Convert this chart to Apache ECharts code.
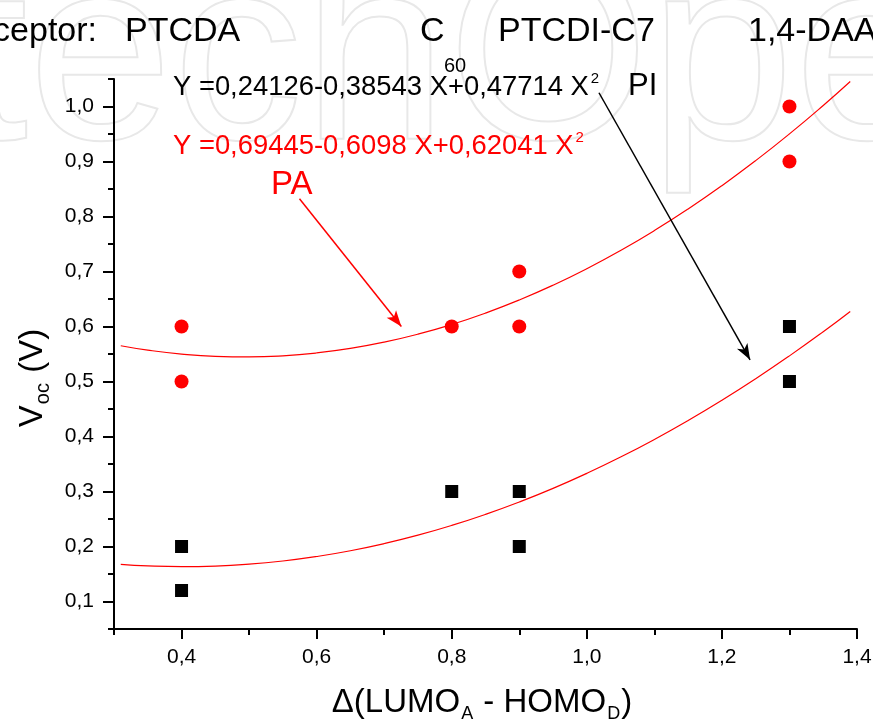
<!DOCTYPE html>
<html>
<head>
<meta charset="utf-8">
<script src="https://cdn.jsdelivr.net/npm/echarts@6/dist/echarts.min.js"></script>
<style>
  html, body { margin: 0; padding: 0; background: #fff; }
  #chart { width: 873px; height: 726px; }
</style>
</head>
<body>
<div id="chart"></div>
<script>
// Measured points: open-circuit voltage vs. LUMO(acceptor) - HOMO(donor) offset
const paPoints = [[0.4, 0.6], [0.4, 0.5], [0.8, 0.6], [0.9, 0.7], [0.9, 0.6], [1.3, 1.0], [1.3, 0.9]];
const piPoints = [[0.4, 0.2], [0.4, 0.12], [0.8, 0.3], [0.9, 0.3], [0.9, 0.2], [1.3, 0.6], [1.3, 0.5]];

// Quadratic fit curves, sampled along x
const fitX = [0.31, 0.35, 0.40, 0.45, 0.50, 0.55, 0.60, 0.65, 0.70, 0.75, 0.80, 0.85, 0.90,
              0.95, 1.00, 1.05, 1.10, 1.15, 1.20, 1.25, 1.30, 1.35, 1.39];
const fitPI = [0.1676, 0.1648, 0.1634, 0.1644, 0.1678, 0.1736, 0.1818, 0.1923, 0.2053, 0.2206,
               0.2383, 0.2584, 0.2809, 0.3057, 0.3330, 0.3626, 0.3946, 0.4290, 0.4658, 0.5050,
               0.5466, 0.5905, 0.6274];
const fitPA = [0.5650, 0.5570, 0.5498, 0.5457, 0.5447, 0.5467, 0.5519, 0.5602, 0.5716, 0.5861,
               0.6037, 0.6244, 0.6482, 0.6751, 0.7051, 0.7382, 0.7744, 0.8137, 0.8561, 0.9016,
               0.9502, 1.0019, 1.0455];

// Axis ticks
const xTicksMajor = [0.4, 0.6, 0.8, 1.0, 1.2, 1.4];
const xTicksMinor = [0.3, 0.5, 0.7, 0.9, 1.1, 1.3];
const yTicksMajor = [0.1, 0.2, 0.3, 0.4, 0.5, 0.6, 0.7, 0.8, 0.9, 1.0];
const yTicksMinor = [0.05, 0.15, 0.25, 0.35, 0.45, 0.55, 0.65, 0.75, 0.85, 0.95, 1.05];

// Arrow annotations (data coordinates: start, end)
const arrowPI = [[1.018, 1.025], [1.2417, 0.5394]];
const arrowPA = [[0.5746, 0.8322], [0.7254, 0.600]];

const FONT = "'Liberation Sans', Arial, Helvetica, sans-serif";
const fmt = v => Number(v).toFixed(1).replace('.', ',');
const pairs = (xs, ys) => xs.map((x, i) => [x, ys[i]]);

const baseX = { type: 'value', min: 0.3, max: 1.4, splitLine: { show: false } };
const baseY = { type: 'value', min: 0.05, max: 1.05, splitLine: { show: false } };

// rich-text styles for an equation with a superscript power
const eqRich = color => ({
  m: { font: '27.4px ' + FONT, fill: color, lineHeight: 32 },
  s: { font: '15px ' + FONT, fill: color, verticalAlign: 'top', lineHeight: 22, padding: [0, 0, 0, 2] }
});

const chart = echarts.init(document.getElementById('chart'));
chart.setOption({
  animation: false,
  backgroundColor: '#ffffff',
  grid: { left: 114, right: 16, top: 79, bottom: 97, containLabel: false, outerBoundsMode: 'none' },
  xAxis: [
    Object.assign({}, baseX, {
      axisLine: { lineStyle: { color: '#000', width: 2 } },
      axisTick: { customValues: xTicksMajor, length: 10, lineStyle: { color: '#000', width: 2 } },
      axisLabel: { customValues: xTicksMajor, formatter: fmt, color: '#000', fontSize: 21, fontFamily: FONT, margin: 18 }
    }),
    Object.assign({}, baseX, {
      position: 'bottom',
      axisLine: { show: false },
      axisTick: { customValues: xTicksMinor, length: 6, lineStyle: { color: '#000', width: 2 } },
      axisLabel: { show: false }
    })
  ],
  yAxis: [
    Object.assign({}, baseY, {
      axisLine: { show: true, lineStyle: { color: '#000', width: 2 } },
      axisTick: { show: true, customValues: yTicksMajor, length: 11, lineStyle: { color: '#000', width: 2 } },
      axisLabel: { customValues: yTicksMajor, formatter: fmt, color: '#000', fontSize: 21, fontFamily: FONT, margin: 20 }
    }),
    Object.assign({}, baseY, {
      position: 'left',
      axisLine: { show: false },
      axisTick: { show: true, customValues: yTicksMinor, length: 6, lineStyle: { color: '#000', width: 2 } },
      axisLabel: { show: false }
    })
  ],
  series: [
    {
      name: 'PA fit', type: 'line', data: pairs(fitX, fitPA), smooth: true, symbol: 'none',
      lineStyle: { color: '#ff0000', width: 1.2 }, z: 3,
      markLine: {
        silent: true, symbol: ['none', 'arrow'], symbolSize: [9, 16],
        lineStyle: { color: '#ff0000', width: 1.5, type: 'solid' }, label: { show: false },
        data: [[{ coord: arrowPA[0] }, { coord: arrowPA[1] }]]
      }
    },
    {
      name: 'PI fit', type: 'line', data: pairs(fitX, fitPI), smooth: true, symbol: 'none',
      lineStyle: { color: '#ff0000', width: 1.2 }, z: 3,
      markLine: {
        silent: true, symbol: ['none', 'arrow'], symbolSize: [9, 16],
        lineStyle: { color: '#000000', width: 1.5, type: 'solid' }, label: { show: false },
        data: [[{ coord: arrowPI[0] }, { coord: arrowPI[1] }]]
      }
    },
    {
      name: 'PA', type: 'scatter', data: paPoints, symbol: 'circle', symbolSize: 14,
      itemStyle: { color: '#ff0000', opacity: 1 }, z: 4
    },
    {
      name: 'PI', type: 'scatter', data: piPoints, symbol: 'rect', symbolSize: 13,
      itemStyle: { color: '#000000', opacity: 1 }, z: 4
    }
  ],
  graphic: [
    // faint publisher watermark in the background
    {
      type: 'text', left: -262, top: -64, z: -10, silent: true,
      style: { text: 'IntechOpen', font: '260px ' + FONT, fill: 'rgba(0,0,0,0)', stroke: '#e8e8e8', lineWidth: 2 }
    },
    // acceptor labels along the top
    { type: 'text', x: 97, y: 32, style: { text: 'Acceptor:', font: '34px ' + FONT, fill: '#000', align: 'right', verticalAlign: 'middle' } },
    { type: 'text', x: 125, y: 32, style: { text: 'PTCDA', font: '34px ' + FONT, fill: '#000', align: 'left', verticalAlign: 'middle' } },
    { type: 'text', x: 420, y: 32, style: { text: 'C', font: '34px ' + FONT, fill: '#000', align: 'left', verticalAlign: 'middle' } },
    { type: 'text', x: 444, y: 66, style: { text: '60', font: '20px ' + FONT, fill: '#000', align: 'left', verticalAlign: 'middle' } },
    { type: 'text', x: 498, y: 32, style: { text: 'PTCDI-C7', font: '34px ' + FONT, fill: '#000', align: 'left', verticalAlign: 'middle' } },
    { type: 'text', x: 748, y: 32, style: { text: '1,4-DAA', font: '34px ' + FONT, fill: '#000', align: 'left', verticalAlign: 'middle' } },
    // fit equations
    {
      type: 'text', x: 173, y: 87,
      style: { text: '{m|Y =0,24126-0,38543 X+0,47714 X}{s|2}', align: 'left', verticalAlign: 'middle', rich: eqRich('#000') }
    },
    {
      type: 'text', x: 173, y: 146,
      style: { text: '{m|Y =0,69445-0,6098 X+0,62041 X}{s|2}', align: 'left', verticalAlign: 'middle', rich: eqRich('#ff0000') }
    },
    { type: 'text', x: 628, y: 86, style: { text: 'PI', font: '31px ' + FONT, fill: '#000', align: 'left', verticalAlign: 'middle' } },
    { type: 'text', x: 271, y: 185, style: { text: 'PA', font: '33px ' + FONT, fill: '#ff0000', align: 'left', verticalAlign: 'middle' } },
    // x axis title
    {
      type: 'text', x: 482, y: 703,
      style: {
        text: '{m|Δ(LUMO}{s|A}{m| - HOMO}{s|D}{m|)}', align: 'center', verticalAlign: 'middle',
        rich: {
          m: { font: '33px ' + FONT, fill: '#000', lineHeight: 40 },
          s: { font: '18px ' + FONT, fill: '#000', verticalAlign: 'bottom', lineHeight: 40, padding: [0, 1, 0, 1] }
        }
      }
    },
    // y axis title
    {
      type: 'text', x: 33, y: 378, rotation: Math.PI / 2,
      style: {
        text: '{m|V}{s|oc}{m| (V)}', align: 'center', verticalAlign: 'middle',
        rich: {
          m: { font: '33px ' + FONT, fill: '#000', lineHeight: 40 },
          s: { font: '20px ' + FONT, fill: '#000', verticalAlign: 'bottom', lineHeight: 40, padding: [0, 1, 0, 1] }
        }
      }
    }
  ]
});
</script>
</body>
</html>
